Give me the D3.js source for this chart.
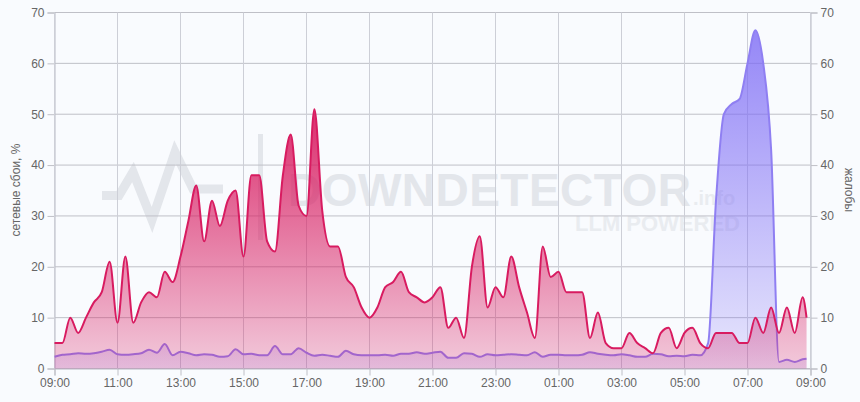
<!DOCTYPE html>
<html><head><meta charset="utf-8">
<script src="https://cdn.jsdelivr.net/npm/d3@7/dist/d3.min.js"></script>
<style>
html,body{margin:0;padding:0;background:#f9fbfe;overflow:hidden}
svg{display:block;font-family:"Liberation Sans",Arial,sans-serif}
</style></head><body><svg id="c" width="860" height="402"></svg>
<script>
const outages = [5,5,10,7,10,13,15,21,9,22,9,13,15,14,19,17,22,29,36,25,33,28,33,35,22,38,38,25,23,38,46,32,30,51,31,24,24,18,16,12,10,12,16,17,19,15,14,13,14,16,8,10,6,20,26,12,16,14,22,16,11,6,24,18,19,15,15,15,6,11,5,4,4,7,5,4,3,7,8,4,7,8,5,4,7,7,7,5,5,10,7,12,7,12,7,14,10];
const complaints = [2.3,2.7,2.8,3,2.9,3,3.3,3.7,2.8,2.7,2.8,3,3.7,3.1,4.8,2.6,3.3,3,2.6,2.8,2.7,2.3,2.4,3.8,2.8,2.9,2.6,2.6,4.4,2.8,2.8,4,3.1,2.5,2.7,2.5,2.3,3.5,2.8,2.6,2.6,2.6,2.7,2.5,2.9,2.9,3.2,2.9,3.1,3.3,2.1,2.1,3,2.9,2.3,2.8,2.6,2.7,2.8,2.7,2.6,3.2,2.3,2.7,2.7,2.6,2.6,2.7,3.2,2.9,2.7,2.6,2.8,2.6,2.3,2.3,2.9,2.8,2.4,2.5,2.4,2.7,2.6,5,33,50,52,53,60,66.5,60,43,1.3,1.7,1.3,1.8,1.9];
const lastOffsetHours = 23.875;
const hours = outages.map((_, i) => i < outages.length - 1 ? i * 0.25 : lastOffsetHours);
const yTicks = [0,10,20,30,40,50,60,70];
const xTickLabels = ["09:00","11:00","13:00","15:00","17:00","19:00","21:00","23:00","01:00","03:00","05:00","07:00","09:00"];
const xTickHours = xTickLabels.map((_, i) => i * 2);
const leftTitle = "сетевые сбои, %";
const rightTitle = "жалобы";

const svg = d3.select("#c");
const x = d3.scaleLinear().domain([0,24]).range([54.5,810.5]);
const y = d3.scaleLinear().domain([0,70]).range([368.5,12.5]);
const defs = svg.append("defs");
function grad(id, color, top, a1, a0){
  const g = defs.append("linearGradient").attr("id",id).attr("gradientUnits","userSpaceOnUse")
    .attr("x1",0).attr("x2",0).attr("y1",y(top)).attr("y2",y(0));
  g.append("stop").attr("offset",0).attr("stop-color",color).attr("stop-opacity",a1);
  g.append("stop").attr("offset",1).attr("stop-color",color).attr("stop-opacity",a0);
}
grad("gRed","#d81b60",51,.92,.22);
grad("gBlue","#7c6af5",66.5,.8,.14);

// watermark
const wm = svg.append("g");
wm.append("polyline").attr("points","102,195.5 119,195.5 133,172 152,220 175,152 193,189 223,189")
  .attr("fill","none").attr("stroke","#e3e6eb").attr("stroke-width",9).attr("stroke-linejoin","miter");
wm.append("rect").attr("x",258).attr("y",134).attr("width",5).attr("height",106).attr("fill","#e3e6eb");
wm.append("text").attr("x",288).attr("y",206).attr("font-size",46).attr("font-weight",700).attr("fill","#e3e6eb").attr("textLength",403).text("DOWNDETECTOR");
wm.append("text").attr("x",693).attr("y",205).attr("font-size",20).attr("font-weight",700).attr("fill","#e9ecf0").text(".info");
wm.append("text").attr("x",575).attr("y",230.5).attr("font-size",22).attr("font-weight",700).attr("fill","#e9ecf0").attr("textLength",165).text("LLM POWERED");

// axes + grid
const hColor = "#bfc0c7", vColor = "#cdcfd7";
const axL = svg.append("g").attr("transform","translate(54.5,0)").call(d3.axisLeft(y).tickValues(yTicks).tickSize(7).tickPadding(3));
const axR = svg.append("g").attr("transform","translate(810.5,0)").call(d3.axisRight(y).tickValues(yTicks).tickSize(7).tickPadding(3));
const axB = svg.append("g").attr("transform","translate(0,368.5)").call(d3.axisBottom(x).tickValues(xTickHours).tickFormat((d,i)=>xTickLabels[i]).tickSize(7).tickPadding(3));
[axL,axR,axB].forEach(a=>{
  a.select(".domain").attr("stroke","#b8bac3");
  a.selectAll(".tick line").attr("stroke",hColor);
  a.selectAll("text").attr("fill","#666").attr("font-size",12).attr("font-family","'Liberation Sans',Arial,sans-serif");
});
const grid = svg.append("g").attr("fill","none").attr("stroke-width",1);
grid.selectAll("line.h").data(yTicks).join("line").attr("stroke",hColor).attr("x1",x(0)).attr("x2",x(24)).attr("y1",d=>y(d)).attr("y2",d=>y(d));
grid.selectAll("line.v").data(xTickHours).join("line").attr("stroke",vColor).attr("x1",d=>x(d)).attr("x2",d=>x(d)).attr("y1",y(70)).attr("y2",y(0));

// series
function draw(vals, fill, stroke, sw){
  const pts = vals.map((v,i)=>[hours[i],v]);
  svg.append("path").datum(pts).attr("fill",`url(#${fill})`).attr("d",
    d3.area().x(d=>x(d[0])).y0(y(0)).y1(d=>y(d[1])).curve(d3.curveMonotoneX));
  svg.append("path").datum(pts).attr("fill","none").attr("stroke",stroke).attr("stroke-width",sw).attr("d",
    d3.line().x(d=>x(d[0])).y(d=>y(d[1])).curve(d3.curveMonotoneX));
}
draw(complaints,"gBlue","#8f7ff2",2);
draw(outages,"gRed","#d81b60",2);

// titles
svg.append("text").attr("transform","translate(17,190) rotate(-90)").attr("text-anchor","middle").attr("dominant-baseline","middle").attr("font-size",12).attr("fill","#666").text(leftTitle);
svg.append("text").attr("transform","translate(848,190) rotate(90)").attr("text-anchor","middle").attr("dominant-baseline","middle").attr("font-size",12).attr("fill","#666").text(rightTitle);
</script></body></html>
